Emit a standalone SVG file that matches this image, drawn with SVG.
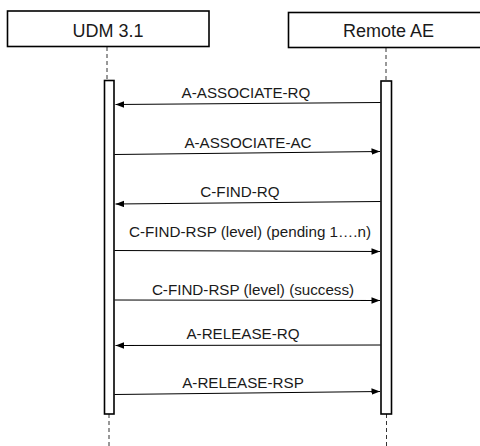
<svg xmlns="http://www.w3.org/2000/svg" width="480" height="446" viewBox="0 0 480 446">
<defs>
<marker id="ah" markerWidth="9" markerHeight="7" refX="8.5" refY="3.25" orient="auto" markerUnits="userSpaceOnUse">
<path d="M0,0 L8.5,3.25 L0,6.5 z" fill="#000"/>
</marker>
<style>
.box{fill:#fff;stroke:#000;stroke-width:1.6}
.bar{fill:#fff;stroke:#000;stroke-width:1.6}
.life{stroke:#333;stroke-width:1;stroke-dasharray:4 3;fill:none}
.msg{stroke:#000;stroke-width:1.1;fill:none;marker-end:url(#ah)}
.t{font-family:"Liberation Sans",Arial,sans-serif;fill:#1a1a1a;text-anchor:middle}
.h{font-size:18px}
.l{font-size:15.2px}
</style>
</defs>
<rect width="480" height="446" fill="#fff"/>
<g id="lifelines">
<line class="life" x1="107" y1="47" x2="107" y2="80"/>
<line class="life" x1="109" y1="414" x2="109" y2="446"/>
<line class="life" x1="386" y1="48" x2="386" y2="81"/>
<line class="life" x1="386.5" y1="414" x2="386.5" y2="446"/>
</g>
<g id="udm">
<rect class="box" x="7.5" y="11" width="201.5" height="35.5"/>
<text class="t h" x="108" y="36.5">UDM 3.1</text>
<rect class="bar" x="104.5" y="80.5" width="9.5" height="333.5"/>
</g>
<g id="remote">
<rect class="box" x="288.5" y="12.5" width="201" height="35"/>
<text class="t h" x="388.5" y="36.5">Remote AE</text>
<rect class="bar" x="381" y="81" width="10.5" height="333"/>
</g>
<g id="connectors">
<line class="msg" x1="380.5" y1="102.5" x2="115.5" y2="104.5"/>
<line class="msg" x1="114.5" y1="154.5" x2="380" y2="151.5"/>
<line class="msg" x1="380.5" y1="201.5" x2="115.5" y2="204"/>
<line class="msg" x1="114.5" y1="250.5" x2="380" y2="251.5"/>
<line class="msg" x1="114.5" y1="300" x2="380" y2="300.5"/>
<line class="msg" x1="380.5" y1="345" x2="115.5" y2="345.5"/>
<line class="msg" x1="114.5" y1="394.5" x2="380" y2="391.5"/>
</g>
<g id="labels">
<text class="t l" x="246" y="98">A-ASSOCIATE-RQ</text>
<text class="t l" x="248" y="148">A-ASSOCIATE-AC</text>
<text class="t l" x="240" y="196.5">C-FIND-RQ</text>
<text class="t l" x="250" y="237">C-FIND-RSP (level) (pending 1….n)</text>
<text class="t l" x="253" y="295">C-FIND-RSP (level) (success)</text>
<text class="t l" x="243" y="339">A-RELEASE-RQ</text>
<text class="t l" x="243" y="388">A-RELEASE-RSP</text>
</g>
</svg>
